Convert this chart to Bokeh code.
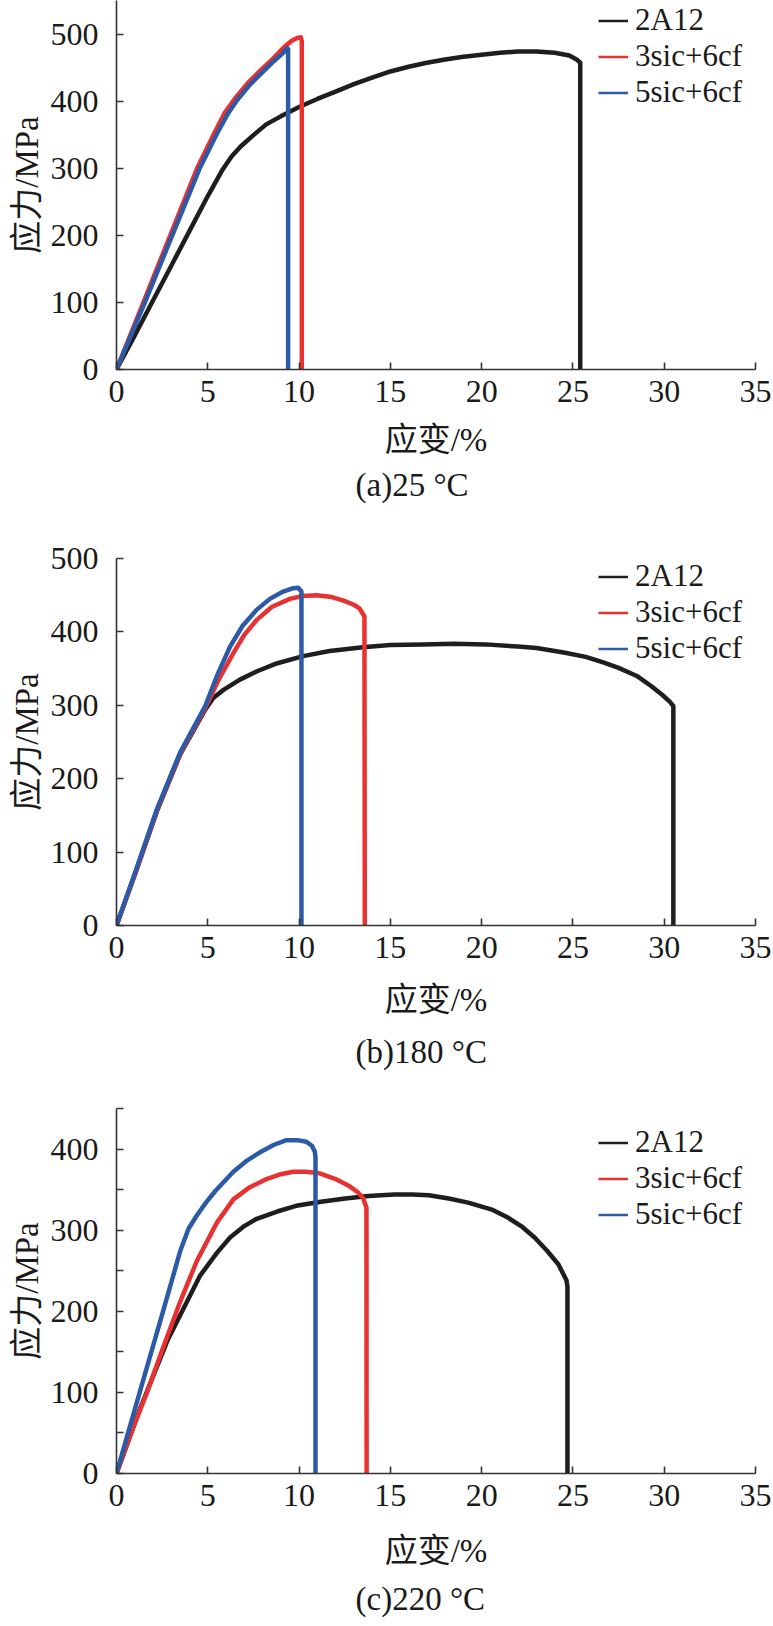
from bokeh.plotting import figure
from bokeh.models import Legend, LegendItem, Title, FixedTicker, Range1d
from bokeh.layouts import column
from bokeh.embed import file_html
from bokeh.resources import INLINE

FONT = "Liberation Serif, Noto Sans CJK SC"
TXT = "#1a1a1a"
NAN = float("nan")

series_names = ["2A12", "3sic+6cf", "5sic+6cf"]
series_colors = ["#1e1e1e", "#e83131", "#2c5aa6"]
x_ticks = [0, 5, 10, 15, 20, 25, 30, 35]
x_label = "应变/%"
y_label = "应力/MPa"

# ---------------- (a) 25 °C ----------------
strain_25_2a12 = [0, 1, 2, 3, 4, 5, 5.8, 6.3, 6.8, 7.5, 8.2, 9, 10, 11, 12, 13, 14, 15, 16, 17, 18,
                  19, 20, 21, 22, 23, 24, 24.8, 25.2, 25.4, 25.4]
stress_25_2a12 = [0, 51, 103, 155, 207, 259, 298, 318, 333, 350, 366, 378, 392, 404, 415, 426, 436, 445,
                  452, 458, 463, 467, 470, 473, 475, 475, 473, 469, 463, 458, 0]
strain_25_3sic = [0, 1.47, 2.94, 4.41, 5.3, 5.9, 6.5, 7.2, 7.9, 8.6, 9.2, 9.6, 9.9, 10.1, 10.15, 10.15]
stress_25_3sic = [0, 100, 200, 300, 350, 382, 405, 428, 447, 465, 482, 491, 495, 496, 490, 0]
strain_25_5sic = [0, 1.55, 3.05, 4.55, 5.5, 6.1, 6.6, 7.3, 8.0, 8.6, 9.1, 9.35, 9.4, 9.4]
stress_25_5sic = [0, 100, 200, 300, 352, 382, 402, 425, 444, 460, 472, 480, 478, 0]

# ---------------- (b) 180 °C ----------------
strain_180_2a12 = [0, 1.1, 2.22, 3.49, 4.86, 5.3, 5.86, 6.76, 7.67, 8.77, 10.22, 11.67, 13.49, 15.0,
                   16.77, 18.5, 20.2, 22.0, 23.0, 24.5, 25.7, 26.7, 27.5, 28.5, 29.3, 29.9, 30.3, 30.5,
                   30.5]
stress_180_2a12 = [0, 76, 156, 233, 294, 310, 321, 335, 346, 357, 367, 374, 379, 382, 383, 384, 383,
                   380, 378, 372, 366, 358, 351, 340, 326, 314, 305, 299, 0]
strain_180_3sic = [0, 1.1, 2.22, 3.49, 4.86, 5.6, 6.4, 7.0, 7.67, 8.5, 9.49, 10.2, 10.95, 11.7, 12.4,
                   13.0, 13.31, 13.58, 13.6]
stress_180_3sic = [0, 76, 157, 234, 296, 335, 371, 396, 416, 434, 445, 449, 450, 448, 443, 437, 432,
                   421, 0]
strain_180_5sic = [0, 1.1, 2.22, 3.49, 4.86, 5.5, 6.22, 6.9, 7.67, 8.4, 9.13, 9.6, 9.95, 10.13, 10.13]
stress_180_5sic = [0, 78, 159, 236, 299, 340, 380, 408, 430, 445, 455, 459, 460, 455, 0]

# ---------------- (c) 220 °C ----------------
strain_220_2a12 = [0, 1.31, 2.77, 4.58, 5.5, 6.22, 7.0, 7.68, 8.8, 9.84, 11.2, 12.53, 13.8, 15.22, 16.2,
                   17.1, 18.2, 19.26, 20.61, 21.4, 22.23, 22.9, 23.57, 24.2, 24.65, 24.7, 24.7]
stress_220_2a12 = [0, 81, 163, 244, 272, 291, 305, 314, 323, 330, 335, 339, 342, 344, 344, 343, 339,
                   334, 325, 316, 304, 291, 275, 258, 238, 230, 0]
strain_220_3sic = [0, 0.8, 1.67, 2.5, 3.49, 4.4, 5.49, 6.4, 7.3, 8.22, 9.0, 9.67, 10.4, 11.13, 12.0,
                   12.77, 13.2, 13.5, 13.69, 13.7]
stress_220_3sic = [0, 50, 100, 152, 212, 262, 309, 338, 353, 363, 369, 372, 372, 370, 363, 354, 347,
                   340, 328, 0]
strain_220_5sic = [0, 1.27, 2.55, 3.5, 3.95, 4.4, 4.9, 5.4, 6.4, 7.1, 7.86, 8.6, 9.31, 9.9, 10.4, 10.7,
                   10.86, 10.9, 10.9]
stress_220_5sic = [0, 100, 200, 275, 302, 318, 334, 348, 372, 385, 396, 405, 411, 411, 409, 404, 397,
                   390, 0]

panels = [
    dict(caption="(a)25 °C", y_end=551, y_major=[0, 100, 200, 300, 400, 500], y_minor=[],
         height=507, border_top=0, border_bottom=136, label_standoff=17, title_standoff=9,
         legend_y=259,
         data=[(strain_25_2a12, stress_25_2a12), (strain_25_3sic, stress_25_3sic),
               (strain_25_5sic, stress_25_5sic)]),
    dict(caption="(b)180 °C", y_end=500, y_major=[0, 100, 200, 300, 400, 500], y_minor=[],
         height=573, border_top=51, border_bottom=152, label_standoff=21, title_standoff=22,
         legend_y=259,
         data=[(strain_180_2a12, stress_180_2a12), (strain_180_3sic, stress_180_3sic),
               (strain_180_5sic, stress_180_5sic)]),
    dict(caption="(c)220 °C", y_end=450, y_major=[0, 100, 200, 300, 400], y_minor=[50, 150, 250, 350, 450],
         height=544, border_top=28, border_bottom=148, label_standoff=24, title_standoff=15,
         legend_y=241,
         data=[(strain_220_2a12, stress_220_2a12), (strain_220_3sic, stress_220_3sic),
               (strain_220_5sic, stress_220_5sic)]),
]


def make_panel(cfg):
    p = figure(width=772, height=cfg["height"],
               x_range=Range1d(0, 35), y_range=Range1d(0, cfg["y_end"]),
               output_backend="svg", toolbar_location=None,
               min_border_left=116, min_border_right=17,
               min_border_top=cfg["border_top"], min_border_bottom=cfg["border_bottom"])
    p.grid.visible = False
    p.outline_line_color = None
    p.background_fill_color = "white"
    p.border_fill_color = "white"

    for (xs, ys), col in zip(cfg["data"], series_colors):
        p.line(xs, ys, line_color=col, line_width=4.5, line_join="round", line_cap="round")

    items = []
    for name, col in zip(series_names, series_colors):
        r = p.line(x=[NAN, NAN], y=[NAN, NAN], line_color=col, line_width=2.5)
        items.append(LegendItem(label=name, renderers=[r]))
    legend = Legend(items=items, location=(482, cfg["legend_y"]), orientation="vertical",
                    glyph_width=30, glyph_height=31, label_height=31, label_standoff=7,
                    spacing=0, padding=0, margin=0,
                    border_line_color=None, background_fill_alpha=0,
                    label_text_font=FONT, label_text_font_size="31px", label_text_color=TXT)
    p.add_layout(legend)

    p.xaxis.ticker = FixedTicker(ticks=x_ticks)
    p.yaxis.ticker = FixedTicker(ticks=cfg["y_major"], minor_ticks=cfg["y_minor"])
    for ax in (p.xaxis[0], p.yaxis[0]):
        ax.axis_line_color = "#333333"
        ax.axis_line_width = 1.6
        ax.major_tick_line_color = "#333333"
        ax.major_tick_line_width = 1.6
        ax.major_tick_in = 7
        ax.major_tick_out = 0
        ax.minor_tick_line_color = "#333333"
        ax.minor_tick_line_width = 1.6
        ax.minor_tick_in = 7
        ax.minor_tick_out = 0
        ax.major_label_text_font = FONT
        ax.major_label_text_font_size = "32px"
        ax.major_label_text_color = TXT
        ax.axis_label_text_font = FONT
        ax.axis_label_text_font_size = "33px"
        ax.axis_label_text_font_style = "normal"
        ax.axis_label_text_color = TXT
    p.xaxis.axis_label = x_label
    p.yaxis.axis_label = y_label
    p.xaxis.major_label_standoff = 11
    p.xaxis.axis_label_standoff = cfg["label_standoff"]
    p.yaxis.major_label_standoff = 18
    p.yaxis.axis_label_standoff = 3

    cap = Title(text=cfg["caption"], align="left", offset=239, standoff=cfg["title_standoff"],
                text_font=FONT, text_font_size="33px", text_font_style="normal", text_color=TXT)
    p.add_layout(cap, "below")
    return p


figs = [make_panel(c) for c in panels]
layout = column(*figs, spacing=0)
open("out.html", "w").write(file_html(layout, INLINE))
